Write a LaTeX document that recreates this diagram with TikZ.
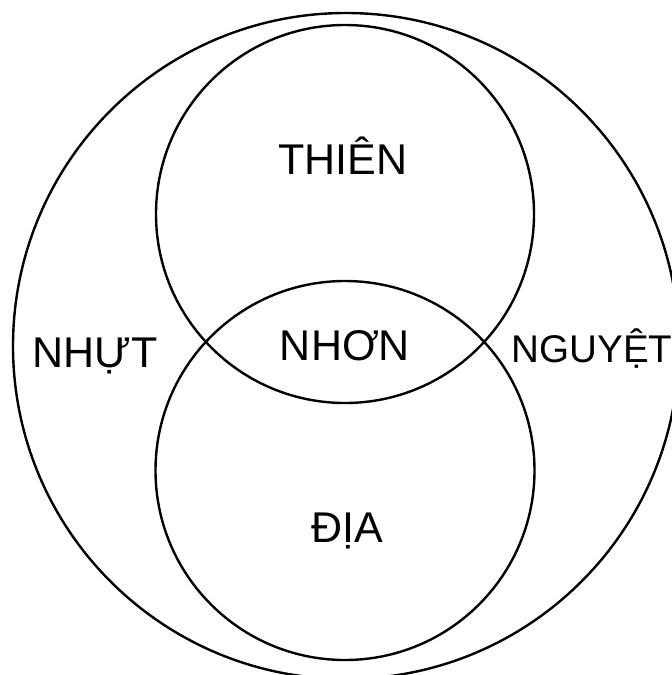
\documentclass[tikz,border=0pt]{standalone}
\usepackage{fontspec}
\setmainfont{Liberation Sans}
\usepackage{tikz}
\usetikzlibrary{positioning}

\begin{document}
\begin{tikzpicture}[
  x=0.5pt, y=-0.5pt,
  ring/.style={draw, line width=1.2pt},
  region/.style={anchor=base, inner sep=0pt, font=\fontsize{21.5}{24}\selectfont}
]
  \useasboundingbox (0,0) rectangle (672,675);
  \clip (0,0) rectangle (672,675);
  \draw[ring] (346,346) circle[radius=333];
  \draw[ring] (345,214) circle[radius=189];
  \draw[ring] (345,470.5) circle[radius=189.5];
  \node[region] (thien) at (343,174) {THIÊN};
  \node[region] (nhon) at (345,360) {NHƠN};
  \node[region] (nhut) at (95,367) {NHỰT};
  \node[region, font=\fontsize{19.3}{22}\selectfont] (nguyet) at (592,362) {NGUYỆT};
  \node[region] (dia) at (347,542) {ĐỊA};
\end{tikzpicture}
\end{document}
